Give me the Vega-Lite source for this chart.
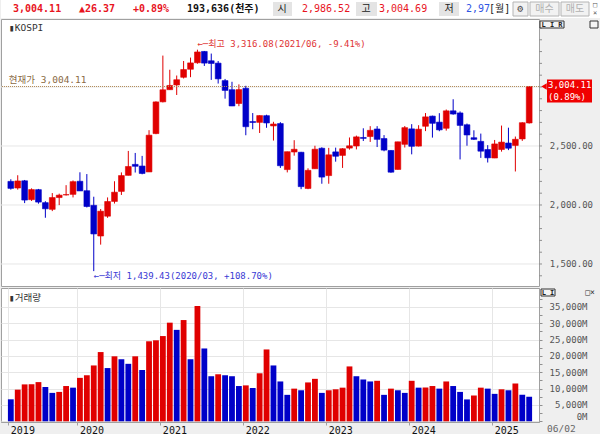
{
  "$schema": "https://vega.github.io/schema/vega-lite/v6.json",
  "background": "#efefef",
  "padding": 0,
  "spacing": 0,
  "config": {
    "view": {"stroke": "#a0a0a0", "fill": "white"},
    "text": {"font": "DejaVu Sans Mono, Noto Sans CJK KR"},
    "axis": {"labelFont": "DejaVu Sans Mono, Noto Sans CJK KR"}
  },
  "resolve": {"scale": {"x": "independent"}},
  "datasets": {
    "ptick": [
      {"p":1400},{"p":1500},{"p":1600},{"p":1700},{"p":1800},{"p":1900},{"p":2000},{"p":2100},{"p":2200},{"p":2300},{"p":2400},
      {"p":2500},{"p":2600},{"p":2700},{"p":2800},{"p":2900},{"p":3000},{"p":3100},{"p":3200},{"p":3300},{"p":3400},{"p":3500}
    ],
    "ohlc": [
      {"m":"2019-03","o":2200,"h":2218,"l":2130,"c":2140.67,"v":6730},
      {"m":"2019-04","o":2144,"h":2252,"l":2130,"c":2203.59,"v":9690},
      {"m":"2019-05","o":2205,"h":2212,"l":2016,"c":2041.74,"v":11300},
      {"m":"2019-06","o":2045,"h":2141,"l":2034,"c":2130.62,"v":11350},
      {"m":"2019-07","o":2130,"h":2136,"l":2011,"c":2024.55,"v":12000},
      {"m":"2019-08","o":2020,"h":2032,"l":1891.81,"c":1967.79,"v":10500},
      {"m":"2019-09","o":1963,"h":2101,"l":1948,"c":2063.05,"v":8700},
      {"m":"2019-10","o":2063,"h":2096,"l":1999,"c":2083.48,"v":9000},
      {"m":"2019-11","o":2085,"h":2168,"l":2080,"c":2087.96,"v":10800},
      {"m":"2019-12","o":2090,"h":2208,"l":2064,"c":2197.67,"v":10300},
      {"m":"2020-01","o":2201,"h":2277,"l":2119,"c":2119.01,"v":13300},
      {"m":"2020-02","o":2121,"h":2262,"l":1979,"c":1987.01,"v":14100},
      {"m":"2020-03","o":1997,"h":2070,"l":1439.43,"c":1754.64,"v":17100},
      {"m":"2020-04","o":1737,"h":1966,"l":1664,"c":1947.56,"v":21200},
      {"m":"2020-05","o":1905,"h":2064,"l":1891,"c":2029.6,"v":16300},
      {"m":"2020-06","o":2030,"h":2201,"l":2012,"c":2108.33,"v":19900},
      {"m":"2020-07","o":2115,"h":2276,"l":2085,"c":2249.37,"v":19000},
      {"m":"2020-08","o":2251,"h":2458,"l":2251,"c":2326.17,"v":17600},
      {"m":"2020-09","o":2344,"h":2441,"l":2275,"c":2327.89,"v":19900},
      {"m":"2020-10","o":2330,"h":2416,"l":2260,"c":2267.15,"v":15700},
      {"m":"2020-11","o":2280,"h":2634,"l":2280,"c":2591.34,"v":24500},
      {"m":"2020-12","o":2605,"h":2878,"l":2600,"c":2873.47,"v":24800},
      {"m":"2021-01","o":2874,"h":3266,"l":2869,"c":2976.21,"v":26100},
      {"m":"2021-02","o":2977,"h":3146,"l":2977,"c":3012.95,"v":30200},
      {"m":"2021-03","o":3017,"h":3097,"l":2932,"c":3061.42,"v":28000},
      {"m":"2021-04","o":3082,"h":3220,"l":3072,"c":3147.86,"v":31000},
      {"m":"2021-05","o":3150,"h":3249,"l":3083,"c":3203.92,"v":19000},
      {"m":"2021-06","o":3205,"h":3316.08,"l":3197,"c":3296.68,"v":35300},
      {"m":"2021-07","o":3301,"h":3305,"l":3178,"c":3202.32,"v":22300},
      {"m":"2021-08","o":3222,"h":3283,"l":3060,"c":3199.27,"v":13800},
      {"m":"2021-09","o":3202,"h":3220,"l":3029,"c":3068.82,"v":14400},
      {"m":"2021-10","o":3054,"h":3068,"l":2901,"c":2970.68,"v":14100},
      {"m":"2021-11","o":2977,"h":3044,"l":2838,"c":2839.01,"v":13800},
      {"m":"2021-12","o":2860,"h":3022,"l":2837,"c":2977.65,"v":10800},
      {"m":"2022-01","o":2989,"h":3010,"l":2591,"c":2663.34,"v":11000},
      {"m":"2022-02","o":2707,"h":2779,"l":2642,"c":2699.18,"v":10200},
      {"m":"2022-03","o":2700,"h":2760,"l":2610,"c":2757.65,"v":14700},
      {"m":"2022-04","o":2757,"h":2765,"l":2654,"c":2695.05,"v":22000},
      {"m":"2022-05","o":2670,"h":2705,"l":2546,"c":2685.9,"v":17100},
      {"m":"2022-06","o":2690,"h":2702,"l":2314,"c":2332.64,"v":12200},
      {"m":"2022-07","o":2300,"h":2452,"l":2276,"c":2451.5,"v":8100},
      {"m":"2022-08","o":2449,"h":2549,"l":2418,"c":2472.05,"v":10000},
      {"m":"2022-09","o":2447,"h":2450,"l":2134,"c":2155.49,"v":9500},
      {"m":"2022-10","o":2140,"h":2311,"l":2134,"c":2293.61,"v":11900},
      {"m":"2022-11","o":2307,"h":2502,"l":2307,"c":2472.53,"v":13000},
      {"m":"2022-12","o":2481,"h":2489,"l":2180,"c":2236.4,"v":8700},
      {"m":"2023-01","o":2249,"h":2484,"l":2180,"c":2425.08,"v":9500},
      {"m":"2023-02","o":2450,"h":2486,"l":2367,"c":2412.85,"v":9800},
      {"m":"2023-03","o":2420,"h":2481,"l":2314,"c":2476.86,"v":10300},
      {"m":"2023-04","o":2482,"h":2572,"l":2469,"c":2501.53,"v":16800},
      {"m":"2023-05","o":2500,"h":2588,"l":2471,"c":2577.12,"v":13800},
      {"m":"2023-06","o":2572,"h":2650,"l":2542,"c":2564.28,"v":12800},
      {"m":"2023-07","o":2580,"h":2668,"l":2534,"c":2632.58,"v":12200},
      {"m":"2023-08","o":2644,"h":2668,"l":2491,"c":2556.27,"v":12400},
      {"m":"2023-09","o":2563,"h":2592,"l":2455,"c":2465.07,"v":8100},
      {"m":"2023-10","o":2462,"h":2465,"l":2273,"c":2277.99,"v":10000},
      {"m":"2023-11","o":2301,"h":2536,"l":2300,"c":2535.29,"v":9500},
      {"m":"2023-12","o":2514,"h":2669,"l":2487,"c":2655.28,"v":8700},
      {"m":"2024-01","o":2645,"h":2685,"l":2429,"c":2497.09,"v":12400},
      {"m":"2024-02","o":2499,"h":2676,"l":2496,"c":2642.36,"v":10300},
      {"m":"2024-03","o":2667,"h":2779,"l":2626,"c":2746.63,"v":10350},
      {"m":"2024-04","o":2753,"h":2757,"l":2571,"c":2692.06,"v":10800},
      {"m":"2024-05","o":2702,"h":2778,"l":2625,"c":2636.52,"v":10000},
      {"m":"2024-06","o":2650,"h":2809,"l":2630,"c":2797.82,"v":12200},
      {"m":"2024-07","o":2798,"h":2896,"l":2765,"c":2770.69,"v":10800},
      {"m":"2024-08","o":2780,"h":2793,"l":2386,"c":2674.31,"v":9000},
      {"m":"2024-09","o":2680,"h":2690,"l":2502,"c":2593.27,"v":6700},
      {"m":"2024-10","o":2570,"h":2633,"l":2551,"c":2556.15,"v":7900},
      {"m":"2024-11","o":2539,"h":2605,"l":2399,"c":2455.91,"v":10300},
      {"m":"2024-12","o":2470,"h":2507,"l":2360,"c":2399.49,"v":10000},
      {"m":"2025-01","o":2398,"h":2551,"l":2397,"c":2517.37,"v":8400},
      {"m":"2025-02","o":2470,"h":2673,"l":2452,"c":2532.78,"v":9800},
      {"m":"2025-03","o":2525,"h":2655,"l":2465,"c":2481.12,"v":9500},
      {"m":"2025-04","o":2505,"h":2580,"l":2284,"c":2556.61,"v":11600},
      {"m":"2025-05","o":2560,"h":2701,"l":2543,"c":2697.67,"v":8100},
      {"m":"2025-06","o":2695,"h":3004.69,"l":2690,"c":3004.11,"v":7500}
    ]
  },
  "vconcat": [
    {
      "width": 600,
      "height": 18,
      "view": {"stroke": null, "fill": "white"},
      "data": {"values": [{}]},
      "layer": [
        {"mark": {"type": "rect", "color": "#e4e4e4"}, "encoding": {"x": {"value": 272}, "x2": {"value": 291}, "y": {"value": 2}, "y2": {"value": 16}}},
        {"mark": {"type": "rect", "color": "#e4e4e4"}, "encoding": {"x": {"value": 355}, "x2": {"value": 376}, "y": {"value": 2}, "y2": {"value": 16}}},
        {"mark": {"type": "rect", "color": "#e4e4e4"}, "encoding": {"x": {"value": 438}, "x2": {"value": 458}, "y": {"value": 2}, "y2": {"value": 16}}},
        {"mark": {"type": "rect", "fill": "#f2f2f2", "stroke": "#b4b4b4", "strokeWidth": 1}, "encoding": {"x": {"value": 512}, "x2": {"value": 527}, "y": {"value": 2}, "y2": {"value": 16}}},
        {"mark": {"type": "rect", "fill": "#f2f2f2", "stroke": "#b4b4b4", "strokeWidth": 1}, "encoding": {"x": {"value": 529}, "x2": {"value": 558}, "y": {"value": 2}, "y2": {"value": 16}}},
        {"mark": {"type": "rect", "fill": "#f2f2f2", "stroke": "#b4b4b4", "strokeWidth": 1}, "encoding": {"x": {"value": 560}, "x2": {"value": 588}, "y": {"value": 2}, "y2": {"value": 16}}},
        {"mark": {"type": "text", "align": "left", "baseline": "middle", "fontSize": 10, "fontWeight": "bold", "color": "#e8141e"}, "encoding": {"x": {"value": 12}, "y": {"value": 9}, "text": {"value": "3,004.11"}}},
        {"mark": {"type": "text", "align": "left", "baseline": "middle", "fontSize": 10, "fontWeight": "bold", "color": "#e8141e"}, "encoding": {"x": {"value": 78}, "y": {"value": 9}, "text": {"value": "▲26.37"}}},
        {"mark": {"type": "text", "align": "left", "baseline": "middle", "fontSize": 10, "fontWeight": "bold", "color": "#e8141e"}, "encoding": {"x": {"value": 132}, "y": {"value": 9}, "text": {"value": "+0.89%"}}},
        {"mark": {"type": "text", "align": "left", "baseline": "middle", "fontSize": 10, "fontWeight": "bold", "color": "#111111"}, "encoding": {"x": {"value": 186}, "y": {"value": 9}, "text": {"value": "193,636(천주)"}}},
        {"mark": {"type": "text", "align": "center", "baseline": "middle", "fontSize": 10, "color": "#222222"}, "encoding": {"x": {"value": 281}, "y": {"value": 9}, "text": {"value": "시"}}},
        {"mark": {"type": "text", "align": "left", "baseline": "middle", "fontSize": 10, "color": "#e8141e"}, "encoding": {"x": {"value": 301}, "y": {"value": 9}, "text": {"value": "2,986.52"}}},
        {"mark": {"type": "text", "align": "center", "baseline": "middle", "fontSize": 10, "color": "#222222"}, "encoding": {"x": {"value": 365}, "y": {"value": 9}, "text": {"value": "고"}}},
        {"mark": {"type": "text", "align": "left", "baseline": "middle", "fontSize": 10, "color": "#e8141e"}, "encoding": {"x": {"value": 378}, "y": {"value": 9}, "text": {"value": "3,004.69"}}},
        {"mark": {"type": "text", "align": "center", "baseline": "middle", "fontSize": 10, "color": "#222222"}, "encoding": {"x": {"value": 448}, "y": {"value": 9}, "text": {"value": "저"}}},
        {"mark": {"type": "text", "align": "left", "baseline": "middle", "fontSize": 10, "color": "#2f55e4"}, "encoding": {"x": {"value": 465}, "y": {"value": 9}, "text": {"value": "2,97"}}},
        {"mark": {"type": "text", "align": "left", "baseline": "middle", "fontSize": 10, "color": "#222222"}, "encoding": {"x": {"value": 488}, "y": {"value": 9}, "text": {"value": "[월]"}}},
        {"mark": {"type": "text", "align": "center", "baseline": "middle", "fontSize": 10, "color": "#444444"}, "encoding": {"x": {"value": 519.5}, "y": {"value": 9}, "text": {"value": "⚙"}}},
        {"mark": {"type": "text", "align": "center", "baseline": "middle", "fontSize": 10, "color": "#b0b0b0"}, "encoding": {"x": {"value": 543.5}, "y": {"value": 9}, "text": {"value": "매수"}}},
        {"mark": {"type": "text", "align": "center", "baseline": "middle", "fontSize": 10, "color": "#b0b0b0"}, "encoding": {"x": {"value": 574}, "y": {"value": 9}, "text": {"value": "매도"}}},
        {"mark": {"type": "text", "align": "center", "baseline": "middle", "fontSize": 7, "color": "#555555"}, "encoding": {"x": {"value": 594}, "y": {"value": 5}, "text": {"value": "□"}}},
        {"mark": {"type": "text", "align": "center", "baseline": "middle", "fontSize": 7, "color": "#555555"}, "encoding": {"x": {"value": 594}, "y": {"value": 13}, "text": {"value": "×"}}}
      ]
    },
    {
      "width": 538,
      "height": 267,
      "title": {"text": "▮KOSPI", "anchor": "start", "frame": "group", "offset": -13, "dx": 8, "fontSize": 9.5, "fontWeight": "normal", "font": "DejaVu Sans Mono, Noto Sans CJK KR", "color": "#333333"},
      "layer": [
        {
          "data": {"name": "ptick"},
          "transform": [{"filter": "datum.p % 500 === 0 && datum.p < 3500"}],
          "mark": {"type": "rule", "color": "#e6e6e6", "strokeWidth": 1},
          "encoding": {"y": {"field": "p", "type": "quantitative", "axis": null, "scale": {"domain": [1313.5, 3576], "nice": false, "zero": false}}}
        },
        {
          "data": {"name": "ohlc"},
          "mark": {"type": "rule", "strokeWidth": 1},
          "encoding": {
            "x": {"field": "m", "type": "ordinal", "title": null, "scale": {"paddingInner": 0.16, "paddingOuter": 1.155},
              "axis": {"values": ["2019-03","2020-01","2021-01","2022-01","2023-01","2024-01","2025-01"], "bandPosition": 0.15, "labels": false, "ticks": false, "domain": false, "grid": true, "gridColor": "#e6e6e6", "title": null}},
            "y": {"field": "l", "type": "quantitative", "axis": null},
            "y2": {"field": "h"},
            "color": {"condition": {"test": "datum.c >= datum.o", "value": "#e00000"}, "value": "#0000c8"}
          }
        },
        {
          "data": {"name": "ohlc"},
          "mark": {"type": "bar", "strokeWidth": 0.6},
          "encoding": {
            "x": {"field": "m", "type": "ordinal", "axis": null},
            "y": {"field": "o", "type": "quantitative", "axis": null},
            "y2": {"field": "c"},
            "color": {"condition": {"test": "datum.c >= datum.o", "value": "#e00000"}, "value": "#0000c8"},
            "stroke": {"condition": {"test": "datum.c >= datum.o", "value": "#e00000"}, "value": "#0000c8"}
          }
        },
        {
          "data": {"values": [{"m": "2021-06", "p": 3316.08, "t": "←─최고 3,316.08(2021/06, -9.41%)"}]},
          "mark": {"type": "text", "align": "left", "baseline": "bottom", "dy": -1, "fontSize": 9, "color": "#e03434"},
          "encoding": {"x": {"field": "m", "type": "ordinal", "axis": null}, "y": {"field": "p", "type": "quantitative", "axis": null}, "text": {"field": "t"}}
        },
        {
          "data": {"values": [{"m": "2020-03", "p": 1439.43, "t": "←─최저 1,439.43(2020/03, +108.70%)"}]},
          "mark": {"type": "text", "align": "left", "baseline": "top", "dy": 1, "fontSize": 9, "color": "#3a3ad4"},
          "encoding": {"x": {"field": "m", "type": "ordinal", "axis": null}, "y": {"field": "p", "type": "quantitative", "axis": null}, "text": {"field": "t"}}
        },
        {
          "data": {"name": "ptick"},
          "mark": {"type": "rule", "color": "#909090", "strokeWidth": 1, "x2Offset": 3},
          "encoding": {"x": {"value": "width"}, "x2": {"value": "width"}, "y": {"field": "p", "type": "quantitative", "axis": null}}
        },
        {
          "data": {"name": "ptick"},
          "transform": [{"filter": "datum.p % 500 === 0 && datum.p < 3000"}],
          "mark": {"type": "text", "align": "right", "baseline": "middle", "dx": 54, "fontSize": 9, "color": "#555555"},
          "encoding": {"x": {"value": "width"}, "y": {"field": "p", "type": "quantitative", "axis": null}, "text": {"field": "p", "type": "quantitative", "format": ",.2f"}}
        },
        {
          "data": {"values": [{"t": "L I R", "b": "□"}]},
          "layer": [
            {"mark": {"type": "rect", "fill": "#f4f4f4", "stroke": "#333333", "strokeWidth": 1, "xOffset": 1, "x2Offset": 25},
              "encoding": {"x": {"value": "width"}, "x2": {"value": "width"}, "y": {"value": 2}, "y2": {"value": 9}}},
            {"mark": {"type": "text", "align": "center", "baseline": "middle", "dx": 13, "fontSize": 7, "fontWeight": "bold", "color": "#222222"},
              "encoding": {"x": {"value": "width"}, "y": {"value": 5.5}, "text": {"field": "t"}}},
            {"mark": {"type": "rect", "fill": "#f4f4f4", "stroke": "#333333", "strokeWidth": 1, "xOffset": 51, "x2Offset": 59},
              "encoding": {"x": {"value": "width"}, "x2": {"value": "width"}, "y": {"value": 2}, "y2": {"value": 9}}}
          ]
        },
        {
          "data": {"values": [{"p": 3004.11, "pct": "(0.89%)", "lab": "현재가 3,004.11"}]},
          "layer": [
            {"mark": {"type": "rule", "strokeDash": [1, 1], "strokeWidth": 1, "color": "#b48c5a"}, "encoding": {"y": {"field": "p", "type": "quantitative", "axis": null}}},
            {"mark": {"type": "text", "align": "left", "baseline": "bottom", "dx": -2, "dy": -1, "fontSize": 9.5, "color": "#8a6a44"},
              "encoding": {"x": {"datum": "2019-03", "type": "ordinal", "axis": null}, "y": {"field": "p", "type": "quantitative", "axis": null}, "text": {"field": "lab"}}},
            {"mark": {"type": "rect", "color": "#f00000", "xOffset": 8, "x2Offset": 53, "yOffset": -7, "y2Offset": 16},
              "encoding": {"x": {"value": "width"}, "x2": {"value": "width"}, "y": {"field": "p", "type": "quantitative", "axis": null}, "y2": {"field": "p"}}},
            {"mark": {"type": "point", "shape": "triangle-left", "filled": true, "size": 40, "color": "#f00000", "xOffset": 5, "opacity": 1},
              "encoding": {"x": {"value": "width"}, "y": {"field": "p", "type": "quantitative", "axis": null}}},
            {"mark": {"type": "text", "align": "left", "baseline": "middle", "dx": 9, "dy": -1, "fontSize": 9, "color": "white"},
              "encoding": {"x": {"value": "width"}, "y": {"field": "p", "type": "quantitative", "axis": null}, "text": {"field": "p", "type": "quantitative", "format": ",.2f"}}},
            {"mark": {"type": "text", "align": "left", "baseline": "middle", "dx": 9, "dy": 11, "fontSize": 9, "color": "white"},
              "encoding": {"x": {"value": "width"}, "y": {"field": "p", "type": "quantitative", "axis": null}, "text": {"field": "pct"}}}
          ]
        }
      ]
    },
    {
      "width": 538,
      "height": 134,
      "title": {"text": "▮거래량", "anchor": "start", "frame": "group", "offset": -14, "dx": 8, "fontSize": 9.5, "fontWeight": "normal", "font": "DejaVu Sans Mono, Noto Sans CJK KR", "color": "#333333"},
      "layer": [
        {
          "data": {"name": "ohlc"},
          "transform": [{"window": [{"op": "lag", "field": "v", "as": "pv"}], "sort": [{"field": "m", "order": "ascending"}]}],
          "mark": {"type": "bar"},
          "encoding": {
            "x": {"field": "m", "type": "ordinal", "title": null, "scale": {"paddingInner": 0.16, "paddingOuter": 1.155},
              "axis": {"values": ["2019-03","2020-01","2021-01","2022-01","2023-01","2024-01","2025-01"], "bandPosition": 0.15,
                "labelExpr": "slice(datum.value, 0, 4)", "labelAlign": "left", "labelBaseline": "top", "labelPadding": 0, "labelAngle": 0,
                "labelFontSize": 10, "labelColor": "#111111", "labelOverlap": false, "tickSize": 3, "tickColor": "#a0a0a0",
                "grid": true, "gridColor": "#e6e6e6", "domainColor": "#a0a0a0", "title": null}},
            "y": {"field": "v", "type": "quantitative", "title": null, "scale": {"domain": [-214, 40814], "nice": false, "zero": false},
              "axis": {"orient": "right", "title": null, "values": [0,2500,5000,7500,10000,12500,15000,17500,20000,22500,25000,27500,30000,32500,35000,37500],
                "tickSize": 3, "tickColor": "#909090", "domainColor": "#a0a0a0",
                "labelExpr": "datum.value % 5000 === 0 ? format(datum.value, ',') + 'M' : ''",
                "labelAlign": "right", "labelPadding": 45, "labelFontSize": 9, "labelColor": "#555555",
                "labelBaseline": {"condition": {"test": "datum.value === 0", "value": "bottom"}, "value": "middle"},
                "labelOverlap": false, "labelFlush": false, "grid": true, "gridColor": "#e6e6e6",
                "gridOpacity": {"condition": {"test": "datum.value % 5000 === 0", "value": 1}, "value": 0},
                "minExtent": 62, "maxExtent": 62}},
            "y2": {"datum": 0},
            "color": {"condition": {"test": "isValid(datum.pv) && datum.v > datum.pv", "value": "#e00000"}, "value": "#0000c8"}
          }
        },
        {
          "data": {"values": [{"d": "06/02", "t": "L I", "b": "□×"}]},
          "layer": [
            {"mark": {"type": "text", "align": "left", "baseline": "middle", "dx": 8, "dy": 7, "fontSize": 9.5, "color": "#666666"},
              "encoding": {"x": {"value": "width"}, "y": {"value": "height"}, "text": {"field": "d"}}},
            {"mark": {"type": "rect", "fill": "#f4f4f4", "stroke": "#333333", "strokeWidth": 1, "xOffset": 2, "x2Offset": 16},
              "encoding": {"x": {"value": "width"}, "x2": {"value": "width"}, "y": {"value": 1}, "y2": {"value": 8}}},
            {"mark": {"type": "text", "align": "center", "baseline": "middle", "dx": 9, "fontSize": 7, "fontWeight": "bold", "color": "#222222"},
              "encoding": {"x": {"value": "width"}, "y": {"value": 4.5}, "text": {"field": "t"}}},
            {"mark": {"type": "text", "align": "center", "baseline": "middle", "dx": 51, "fontSize": 8, "color": "#333333"},
              "encoding": {"x": {"value": "width"}, "y": {"value": 4.5}, "text": {"field": "b"}}}
          ]
        }
      ]
    }
  ]
}
